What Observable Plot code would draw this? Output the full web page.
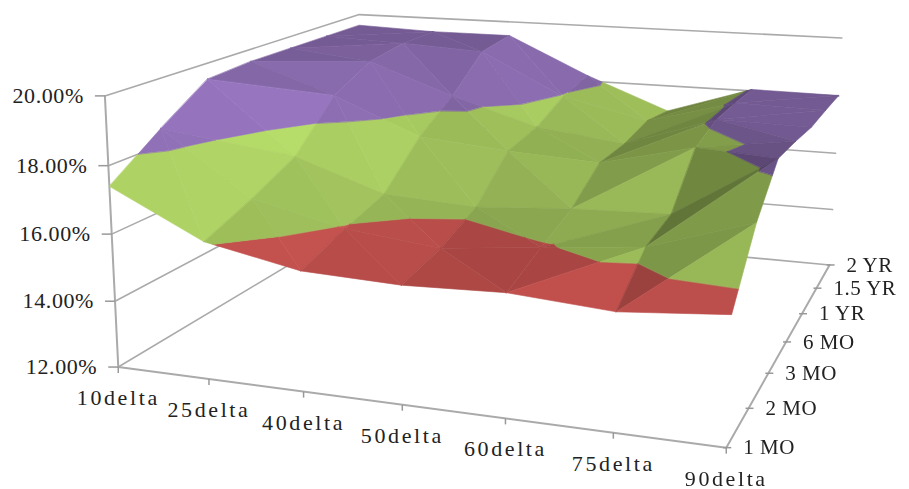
<!DOCTYPE html>
<html><head><meta charset="utf-8">
<script src="https://cdn.jsdelivr.net/npm/d3@7"></script>
<script src="https://cdn.jsdelivr.net/npm/@observablehq/plot@0.6"></script>
<style>
html,body{margin:0;padding:0;background:#fff}
svg{display:block;filter:blur(0.45px)}
svg text{font-family:"Liberation Serif",serif;fill:#222}
</style></head><body>
<div id="chart"></div>
<script>
const deltas = ["10delta","25delta","40delta","50delta","60delta","75delta","90delta"];
const tenors = ["1 MO","2 MO","3 MO","6 MO","1 YR","1.5 YR","2 YR"];
const levels = [12,14,16,18,20];
const vol1mo = [17.4,16.05,15.5,15.4,15.5,15.3,15.55];
const vol2mo = [18.5,16.6,15.95,15.65,15.95,16.25,17.2];
const vol3mo = [19.5,17.25,16.3,16.15,16.35,16.45,18.3];
const vol6mo = [19.6,18.65,17.5,17.25,17.1,17.8,18.2];
const vol1y  = [19.6,19.3,18.3,17.45,17.1,18.1,18.05];
const vol18m = [19.6,19.5,19.35,17.95,17.3,18.1,18.05];
const vol2y  = [19.6,19.5,19.5,18.2,17.1,18.05,18.02];
const grid = [vol1mo,vol2mo,vol3mo,vol6mo,vol1y,vol18m,vol2y];
const bands = [
 {lo:12,hi:14,rgb:[79,129,189]},
 {lo:14,hi:16,rgb:[192,80,77]},
 {lo:16,hi:18,rgb:[155,187,89]},
 {lo:18,hi:20,rgb:[128,100,162]}];
// camera calibration: box position [delta index, tenor index, level index] -> pixel
const anchors = [
[0,0,0,118,366],[6,0,0,725,447],[6,6,0,828,264],[0,0,4,104,95],[0,6,4,358,14],[6,6,4,842,38],
[0,0,1,115,299],[0,0,2,111,233],[0,0,3,109,165],[6,6,3,838,96],[6,6,2,835,153],[6,6,1,832,210],
[1,0,0,209,380],[2,0,0,303,393],[3,0,0,401,406],[4,0,0,505,419],[5,0,0,611,432],
[6,1,0,748,407],[6,2,0,768,371],[6,3,0,787,341],[6,4,0,803,313],[6,5,0,816,287]];
function solve(A,b){const n=b.length;A=A.map((r,i)=>[...r,b[i]]);
 for(let c=0;c<n;c++){let p=c;for(let r=c+1;r<n;r++)if(Math.abs(A[r][c])>Math.abs(A[p][c]))p=r;[A[c],A[p]]=[A[p],A[c]];
  for(let r=0;r<n;r++)if(r!==c){const f=A[r][c]/A[c][c];for(let k=c;k<=n;k++)A[r][k]-=f*A[c][k];}}
 return A.map((r,i)=>r[n]/r[i]);}
const rowsA=[],rowsB=[];
for(const [i,j,h,u,v] of anchors){
 rowsA.push([i,j,h,1,0,0,0,0,-u*i,-u*j,-u*h]);rowsB.push(u);
 rowsA.push([0,0,0,0,i,j,h,1,-v*i,-v*j,-v*h]);rowsB.push(v);}
const N=d3.range(11).map(a=>d3.range(11).map(b=>d3.sum(rowsA,r=>r[a]*r[b])));
const Nb=d3.range(11).map(a=>d3.sum(rowsA,(r,k)=>r[a]*rowsB[k]));
const P=solve(N,Nb);
function proj(i,j,vol){const h=(vol-12)/2;const w=P[8]*i+P[9]*j+P[10]*h+1;
 return [(P[0]*i+P[1]*j+P[2]*h+P[3])/w,(P[4]*i+P[5]*j+P[6]*h+P[7])/w];}
function clip(poly,val,keepAbove){const out=[];
 for(let k=0;k<poly.length;k++){const a=poly[k],b=poly[(k+1)%poly.length];
  const ina=keepAbove?a[2]>=val:a[2]<=val,inb=keepAbove?b[2]>=val:b[2]<=val;
  if(ina)out.push(a);
  if(ina!==inb){const t=(val-a[2])/(b[2]-a[2]);out.push([a[0]+t*(b[0]-a[0]),a[1]+t*(b[1]-a[1]),val]);}}
 return out;}
function shade(tri,rgb){const [a,b,c]=tri;
 const sx=1/6,sy=1/6,sz=0.075;
 const u=[(b[0]-a[0])*sx,(b[1]-a[1])*sy,(b[2]-a[2])*sz],w=[(c[0]-a[0])*sx,(c[1]-a[1])*sy,(c[2]-a[2])*sz];
 let n=[u[1]*w[2]-u[2]*w[1],u[2]*w[0]-u[0]*w[2],u[0]*w[1]-u[1]*w[0]];
 if(n[2]<0)n=n.map(d=>-d);const m=Math.hypot(...n);n=n.map(d=>d/m);
 const f=0.9+(n[0]<0?0.45:0.3)*n[0]-0.2*n[1];
 return `rgb(${rgb.map(q=>Math.min(255,Math.round(q*f))).join(",")})`;}
const polys=[];let pid=0;
function addTri(tri){for(const B of bands){
  let p=clip(tri,B.lo,true);if(p.length)p=clip(p,B.hi,false);
  if(p.length<3)continue;const color=shade(tri,B.rgb);pid++;
  for(const q of p){const [x,y]=proj(q[0],q[1],q[2]);polys.push({id:pid,x,y,color});}}}
const rising=(i,j)=>(i>=4&&!(i===5&&(j===2||j===3)))||(i===0&&j>=1);
for(let j=5;j>=0;j--)for(let i=0;i<6;i++){
 const v=(a,b)=>[a,b,grid[b][a]];
 if(rising(i,j)){
  addTri([v(i,j),v(i+1,j+1),v(i,j+1)]);
  addTri([v(i,j),v(i+1,j),v(i+1,j+1)]);
 }else{
  addTri([v(i+1,j),v(i+1,j+1),v(i,j+1)]);
  addTri([v(i,j),v(i+1,j),v(i,j+1)]);
 }
}
const wallLines=[];
levels.forEach((lv,k)=>{[[0,0],[0,6],[6,6]].forEach(([i,j])=>{const [x,y]=proj(i,j,lv);wallLines.push({k,x,y});});});
const frame=[];
[[0,0,12],[0,0,20]].forEach(([i,j,l])=>{const[x,y]=proj(i,j,l);frame.push({k:"z",x,y});});
[[0,0,12],[6,0,12],[6,6,12]].forEach(([i,j,l])=>{const[x,y]=proj(i,j,l);frame.push({k:"f",x,y});});
const zt=levels.map(l=>{const[x,y]=proj(0,0,l);return {x,y,label:l.toFixed(2)+"%"};});
const dt=deltas.map((label,i)=>{const[x,y]=proj(i,0,12);return {x,y,label};});
const tt=tenors.map((label,j)=>{const[x,y]=proj(6,j,12);return {x,y,label};});
const spaced=s=>function(I,sc,v,d,c,next){const g=next(I,sc,v,d,c);g.style.letterSpacing=s;return g;};
const marks=[
 Plot.line(wallLines,{x:"x",y:"y",z:"k",stroke:"#aaaaaa",strokeWidth:1.6}),
 Plot.line(frame,{x:"x",y:"y",z:"k",stroke:"#aaaaaa",strokeWidth:2}),
 Plot.link(zt,{x1:d=>d.x-10,x2:"x",y1:"y",y2:"y",stroke:"#999",strokeWidth:1.5}),
 Plot.link(dt,{x1:"x",x2:"x",y1:"y",y2:d=>d.y+6,stroke:"#999",strokeWidth:1.5}),
 Plot.link(tt,{x1:d=>d.x-3,x2:d=>d.x+5,y1:"y",y2:"y",stroke:"#999",strokeWidth:1.5}),
 Plot.line(polys,{x:"x",y:"y",z:"id",fill:"color",stroke:"color",strokeWidth:0.6,curve:"linear-closed"}),
 Plot.text(zt,{x:d=>d.x-21,y:"y",text:"label",textAnchor:"end",fontSize:22,render:spaced("0.6px")}),
 Plot.text(dt,{x:"x",y:d=>d.y+31,text:"label",fontSize:22,render:spaced("2.6px")}),
 Plot.text(tt,{x:d=>d.x+17,y:"y",text:"label",textAnchor:"start",fontSize:21,render:spaced("0.5px")})
];
const chart=Plot.plot({width:909,height:489,margin:0,
 x:{type:"identity",axis:null},y:{type:"identity",axis:null},color:{type:"identity"},
 style:{background:"#fff",overflow:"visible"},marks});
document.getElementById("chart").append(chart);
</script></body></html>
